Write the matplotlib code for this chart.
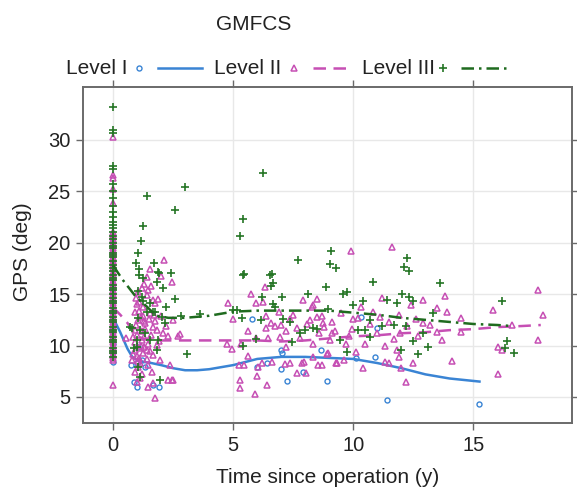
import matplotlib
matplotlib.use("Agg")
import matplotlib.pyplot as plt
from matplotlib.lines import Line2D

plt.rcParams['font.family'] = ['Liberation Sans', 'DejaVu Sans']

# colours of the three GMFCS levels
c1 = '#3a84d4'
c2 = '#c64fb4'
c3 = '#257525'

levels = ['Level I', 'Level II', 'Level III']

# GMFCS level I observations (time in years, GPS in degrees)
lvl1_x = [0, 0, 0, 0.75, 0.88, 1.0, 1.67, 1.92, 1.04, 1.0, 1.33, 1.2,
          5.8, 7.0, 7.04, 6.4, 7.0, 7.25, 7.9, 8.9, 8.67, 10.3, 10.1, 10.9,
          6.0, 11.4, 15.25, 11.0]
lvl1_y = [10.2, 9.4, 8.4, 8.1, 6.5, 6.0, 6.2, 6.0, 9.9, 8.3, 7.9, 8.6,
          12.6, 9.6, 9.3, 8.3, 7.7, 6.6, 7.4, 6.6, 9.6, 12.8, 8.8, 8.9,
          7.9, 4.7, 4.3, 11.7]

# level II: measurements at operation (time 0)
lvl2_x0_y = [30.3, 26.6, 26.3, 25.2, 23.9, 21.0, 20.8, 20.6, 20.4, 20.2, 19.9,
             19.7, 19.5, 19.3, 19.1, 18.9, 18.6, 18.4, 18.2, 18.0, 17.7, 17.5,
             17.2, 17.0, 16.8, 16.6, 16.3, 16.1, 15.9, 15.7, 15.4, 15.2, 15.0,
             14.8, 14.5, 14.3, 14.1, 13.9, 13.6, 13.4, 13.2, 13.0, 12.8, 12.6,
             12.3, 12.1, 11.9, 11.7, 11.4, 11.2, 11.0, 10.8, 10.5, 10.3, 10.1,
             9.9, 9.7, 9.5, 9.2, 9.0, 8.8, 8.6, 6.2]
# level II: follow-up measurements
lvl2_x = [2.13, 1.54, 1.42, 2.46, 1.04, 1.46, 1.67, 1.75, 1.88, 1.25, 1.54,
          0.92, 1.04, 1.33, 1.67, 2.08, 2.79, 0.83, 1.21, 1.46, 1.83, 0.92,
          1.25, 1.67, 1.96, 0.79, 1.13, 1.46, 2.38, 0.92, 1.63, 2.5, 2.29,
          1.13, 1.67, 1.46, 1.75, 1.0,
          1.0, 1.1, 0.9, 1.2, 1.0, 1.3, 1.4, 1.1, 0.95, 1.15, 1.25, 1.35,
          1.05, 1.2, 0.85, 1.5, 1.6, 1.7, 2.0, 2.2, 1.9, 2.3, 1.4, 1.1, 1.3,
          2.0, 1.2, 0.54, 1.0, 0.9, 1.15, 1.3, 1.05, 1.4, 1.55, 1.75, 1.85,
          1.1, 1.3, 0.95, 1.6, 2.7, 2.5, 2.46,
          4.79, 5.75, 6.33, 6.25, 5.96, 5.0, 5.63, 6.38, 6.58, 6.38, 6.75,
          7.38, 7.67, 8.08, 8.21, 8.5, 8.33, 8.5, 8.75, 9.25, 9.96, 10.0,
          9.92, 4.75, 4.96, 5.33, 5.96, 6.46, 6.96, 7.21, 7.79, 8.33, 8.58,
          9.04, 9.71, 5.63, 6.21, 6.63, 5.25, 5.46, 6.04, 7.17, 7.38, 7.88,
          8.33, 8.54, 8.92, 9.29, 9.63, 5.29, 5.29, 6.0, 6.42, 5.92, 7.67,
          8.04, 7.0, 7.2, 7.5, 8.8, 9.1, 9.5, 6.9, 7.9, 8.7, 9.8,
          11.6, 8.3, 11.2, 12.9, 13.8, 13.9, 13.5, 15.8, 17.7, 17.9, 14.5,
          12.4, 10.8, 10.2, 10.7, 11.5, 12.9, 12.25, 13.5, 14.5, 16.6, 11.0,
          11.7, 11.96, 13.7, 17.7, 16.0, 16.2, 16.0, 14.1, 12.2, 12.5, 12.0,
          11.5, 11.3, 11.9, 11.8, 10.4, 10.1, 9.33, 8.96, 8.7, 7.96, 9.1,
          10.3, 11.1, 11.9, 12.6, 10.5, 11.3, 12.7, 13.2]
lvl2_y = [18.3, 17.4, 16.7, 16.2, 15.2, 15.4, 14.4, 14.1, 14.5, 13.8, 13.2,
          13.3, 12.5, 12.2, 11.8, 11.2, 11.1, 10.8, 10.5, 10.2, 10.1, 9.6,
          9.3, 9.1, 8.6, 8.6, 8.3, 8.1, 8.1, 7.4, 7.4, 6.7, 6.7,
          6.8, 6.4, 6.0, 4.9, 6.5,
          9.0, 9.8, 10.3, 11.4, 11.0, 10.8, 9.6, 8.8, 12.0, 12.8, 12.9, 11.6,
          7.9, 7.2, 9.2, 12.6, 11.0, 13.0, 12.9, 11.9, 10.4, 10.9, 14.9, 14.2, 16.0,
          16.8, 15.6, 10.7, 14.0, 11.5, 10.0, 9.9, 8.5, 8.7, 9.5, 12.4, 11.5,
          13.4, 12.4, 14.6, 15.8, 10.9, 12.5, 6.7,
          14.1, 15.0, 15.7, 14.2, 14.1, 12.6, 11.4, 12.9, 12.2, 11.7, 11.9,
          12.6, 11.7, 12.1, 12.5, 14.5, 13.9, 12.8, 12.2, 11.4, 11.6, 12.6,
          19.2, 10.2, 9.7, 10.2, 10.7, 10.7, 10.8, 9.9, 10.7, 10.2, 11.2,
          10.5, 10.2, 9.0, 8.3, 8.4, 8.1, 8.1, 7.9, 8.2, 8.3, 8.3,
          8.9, 8.1, 9.2, 8.3, 8.6, 6.7, 5.9, 7.0, 6.2, 5.3, 7.3,
          7.3, 12.0, 11.4, 13.0, 11.8, 12.3, 13.2, 13.3, 14.4, 12.9, 10.9,
          19.6, 13.8, 14.6, 14.4, 14.8, 13.3, 13.7, 13.5, 15.4, 13.0, 12.7,
          13.9, 13.3, 12.7, 12.1, 12.3, 12.2, 11.9, 11.3, 11.3, 12.0, 11.2,
          10.6, 11.2, 10.5, 10.5, 9.9, 9.6, 7.2, 8.5, 6.5, 8.3, 7.8,
          8.3, 8.4, 8.9, 9.6, 7.8, 9.4, 8.3, 9.3, 8.1, 8.4, 11.2,
          13.8, 12.8, 13.0, 12.6, 10.2, 10.0, 10.9, 12.0]

# level III: measurements at operation (time 0)
lvl3_x0_y = [33.2, 31.0, 30.7, 27.5, 27.2, 25.7, 25.0, 24.4, 23.6, 23.0, 22.5,
             22.0, 21.7, 21.4, 21.0, 20.7, 20.4, 20.0, 19.7, 19.5, 19.0, 18.8,
             18.6, 18.2, 17.8, 17.5, 17.3, 16.9, 16.6, 16.4, 15.9, 15.6, 15.4,
             15.0, 14.6, 14.3, 14.1, 13.7, 13.4, 13.2, 12.8, 12.5, 12.3, 11.8,
             11.5, 11.3, 10.8, 10.5, 10.3, 9.8, 9.5, 9.3, 8.9]
# level III: follow-up measurements
lvl3_x = [1.42, 3.0, 2.58, 1.25, 1.17, 1.04, 0.96, 1.71, 6.25, 5.42, 5.29, 7.7,
          1.08, 1.88, 2.42, 1.25, 1.83, 2.08, 1.04, 1.21, 2.58, 2.21, 1.75,
          2.04, 2.83, 0.71, 1.04, 2.17, 1.33, 1.0, 3.08, 1.54, 1.83, 1.04,
          1.96, 1.12, 1.08, 1.92, 1.42, 1.13, 1.0, 1.88, 0.88, 1.54, 1.25,
          1.67, 0.79, 3.6,
          5.0, 5.42, 6.54, 6.67, 6.67, 5.46, 6.63, 6.58, 6.21, 7.04, 8.13,
          8.88, 9.08, 9.04, 9.29, 9.75, 9.58, 10.8, 10.0, 10.4, 5.17, 5.38,
          6.17, 7.08, 7.38, 8.0, 6.75, 7.79, 8.33, 5.96, 5.42, 7.46, 9.46,
          9.75, 8.96, 10.5, 10.7, 8.5,
          12.25, 12.1, 12.3, 13.6, 12.04, 12.33, 11.4, 11.8, 12.5, 16.2, 13.3,
          10.7, 10.2, 11.2, 11.7, 12.2, 12.9, 12.5, 13.1, 16.4, 16.3, 16.7,
          12.7, 12.0]
lvl3_y = [24.5, 25.4, 23.2, 21.6, 20.2, 19.0, 18.0, 18.0, 26.8, 22.3, 20.7, 18.3,
          17.4, 17.2, 17.1, 16.6, 16.2, 15.6, 15.3, 14.7, 14.5, 13.8, 13.3,
          12.8, 12.9, 11.8, 12.7, 12.2, 11.2, 9.9, 9.2, 10.5, 9.6, 7.9,
          6.7, 6.9, 16.9, 17.1, 13.3, 11.5, 10.5, 10.5, 9.8, 14.1, 14.3,
          13.3, 11.7, 13.1,
          13.5, 16.9, 16.9, 14.0, 16.1, 17.0, 17.0, 15.8, 14.7, 14.7, 15.0,
          15.7, 19.2, 17.9, 17.5, 15.2, 15.0, 16.2, 13.9, 14.3, 13.5, 12.7,
          12.5, 12.6, 12.3, 11.5, 13.8, 11.2, 11.7, 10.6, 10.0, 10.3, 10.5,
          9.4, 13.6, 11.5, 10.8, 11.6,
          18.5, 17.6, 17.3, 16.1, 15.0, 14.7, 14.4, 14.1, 14.3, 14.3, 13.2,
          12.5, 11.5, 11.9, 12.0, 11.9, 11.2, 10.4, 9.9, 10.4, 9.8, 9.3,
          9.2, 9.6]

# smoothed fits
fit1_x = [0, 0.3, 0.6, 0.8, 1.0, 1.3, 1.6, 2.0, 2.5, 3.0, 3.5, 4.0, 5.0, 6.0,
          7.0, 8.0, 9.0, 10.0, 11.0, 12.0, 13.0, 14.0, 15.25]
fit1_y = [12.7, 11.3, 9.7, 8.9, 8.6, 8.4, 8.3, 8.1, 7.8, 7.6, 7.6, 7.7, 8.1, 8.7,
          8.9, 8.9, 8.8, 8.7, 8.3, 7.8, 7.2, 6.8, 6.5]
fit2_x = [0, 0.3, 0.6, 0.9, 1.2, 1.6, 2.0, 3.0, 4.0, 5.0, 6.0, 7.0, 8.0, 9.0,
          10.0, 11.0, 12.0, 13.0, 14.0, 15.0, 16.0, 17.0, 17.8]
fit2_y = [13.7, 13.0, 12.2, 11.1, 10.7, 10.6, 10.5, 10.5, 10.5, 10.5, 10.5, 10.4,
          10.5, 10.7, 10.9, 11.0, 11.2, 11.3, 11.5, 11.6, 11.8, 11.9, 12.0]
fit3_x = [0, 0.4, 0.9, 1.4, 1.8, 2.3, 3.0, 4.0, 5.0, 6.0, 7.0, 8.0, 9.0, 10.0,
          11.0, 12.0, 13.0, 14.0, 15.0, 16.0, 16.6]
fit3_y = [17.8, 16.4, 14.9, 13.8, 12.9, 12.7, 12.7, 12.9, 13.3, 13.4, 13.4, 13.4,
          13.4, 13.2, 13.0, 12.7, 12.5, 12.3, 12.1, 12.0, 11.9]

xticks = [0, 5, 10, 15]
yticks = [5, 10, 15, 20, 25, 30]

W, H = 577, 490
fig = plt.figure(figsize=(W / 100, H / 100), dpi=100)
ax = fig.add_axes([83 / W, 1 - 423 / H, (572 - 83) / W, (423 - 87) / H])

mk1 = dict(marker='o', ms=3.6, mfc='none', mec=c1, mew=1.0, ls='none')
mk2 = dict(marker='^', ms=5.0, mfc='none', mec=c2, mew=1.1, ls='none')
mk3 = dict(marker='+', ms=5.6, mec=c3, mew=1.2, ls='none')

ax.plot(lvl1_x, lvl1_y, **mk1)
ax.plot(fit1_x, fit1_y, color=c1, lw=1.8, ls='-')
ax.plot([0] * len(lvl2_x0_y), lvl2_x0_y, **mk2)
ax.plot(lvl2_x, lvl2_y, **mk2)
ax.plot(fit2_x, fit2_y, color=c2, lw=1.8, ls=(0, (5, 3)))
ax.plot([0] * len(lvl3_x0_y), lvl3_x0_y, **mk3)
ax.plot(lvl3_x, lvl3_y, **mk3)
ax.plot(fit3_x, fit3_y, color='#1f6b1f', lw=1.8, ls=(0, (5, 2, 1, 2)))

ax.set_xlim(-1.25, 19.1)
ax.set_ylim(2.47, 35.15)
ax.set_xticks(xticks)
ax.set_yticks(yticks)
ax.grid(True, color='#e8e8e8', lw=1.0)
ax.set_axisbelow(True)
for s in ax.spines.values():
    s.set_color('#6a6a6a')
    s.set_linewidth(1.4)
ax.tick_params(direction='out', length=5, width=1.0, color='#6a6a6a',
               labelsize=14.5, labelcolor='#222222', pad=4,
               top=True, right=True)

ax.set_xlabel('Time since operation (y)', fontsize=15, color='#222222', labelpad=10)
fig.text(23 / W, 1 - 252 / H, 'GPS (deg)', rotation=90, fontsize=15,
         color='#222222', ha='center', va='center')

# legend drawn across the top, lattice style
fig.text(254 / W, 1 - 25 / H, 'GMFCS', fontsize=15, color='#222222',
         ha='center', va='center')
ly = 1 - 68 / H
text_end = [128, 281, 435]
mark_at = [139, 294, 443]
line_span = [(158, 202), (313, 352), (461, 507)]
mks = [mk1, mk2, mk3]
lstyles = [dict(color=c1, lw=1.8, ls='-'),
           dict(color=c2, lw=1.8, ls=(0, (5, 3))),
           dict(color='#1f6b1f', lw=1.8, ls=(0, (5, 2, 1, 2)))]
for lab, te, ma, (a, b), mk, lsd in zip(levels, text_end, mark_at, line_span, mks, lstyles):
    fig.text(te / W, ly, lab, fontsize=15, color='#222222', ha='right', va='center')
    fig.add_artist(Line2D([ma / W], [ly], transform=fig.transFigure, **mk))
    fig.add_artist(Line2D([a / W, b / W], [ly, ly], transform=fig.transFigure, **lsd))

fig.savefig('out.png', dpi=100)
